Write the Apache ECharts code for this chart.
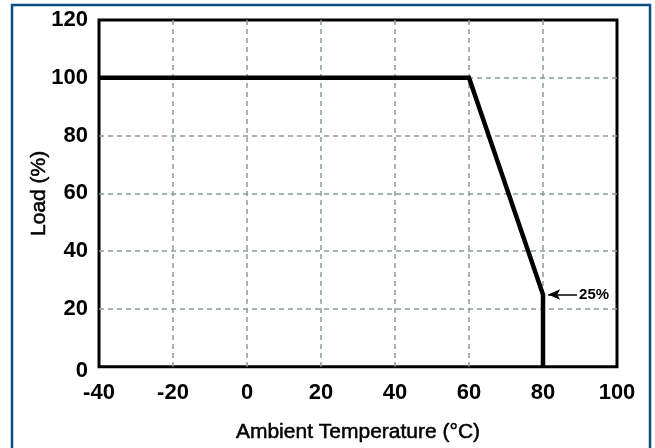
<!DOCTYPE html>
<html>
<head>
<meta charset="utf-8">
<script src="https://cdn.jsdelivr.net/npm/echarts@6/dist/echarts.min.js"></script>
<style>
  html, body { margin: 0; padding: 0; background: #fff; }
  #chart { width: 655px; height: 448px; }
</style>
</head>
<body>
<div id="chart"></div>
<script>
// derating curve points: [temperature, load]
var tempPoints = [-40, 60, 80, 80];
var loadPoints = [100, 100, 25, 0];
var xTicks = [-40, -20, 0, 20, 40, 60, 80, 100];
var yTicks = [0, 20, 40, 60, 80, 100, 120];
var noteLabel = "25%";
var noteFrom = [89.2, 25];
var noteTo = [81.4, 25];

var chart = echarts.init(document.getElementById("chart"));

var font = "'Liberation Sans', Arial, sans-serif";
var gridDash = {
  show: true,
  showMinLine: false,
  showMaxLine: false,
  lineStyle: { color: "#8a9c9c", width: 1.5, type: [5, 4] }
};
var titleStyle = {
  color: "#000", fontSize: 21, fontFamily: font,
  textBorderColor: "#000", textBorderWidth: 0.5
};

var option = {
  animation: false,
  backgroundColor: "#fff",
  grid: {
    left: 99, top: 20, right: 38, bottom: 79,
    show: true, borderColor: "#000", borderWidth: 3, backgroundColor: "transparent"
  },
  xAxis: {
    type: "value",
    min: xTicks[0], max: xTicks[xTicks.length - 1], interval: 20,
    name: "Ambient Temperature (°C)",
    nameLocation: "middle", nameGap: 55, nameMoveOverlap: false,
    nameTextStyle: titleStyle,
    axisLine: { show: false },
    axisTick: { show: false },
    axisLabel: { color: "#000", fontSize: 22, fontWeight: "bold", fontFamily: font, margin: 15 },
    splitLine: gridDash
  },
  yAxis: {
    type: "value",
    min: yTicks[0], max: yTicks[yTicks.length - 1], interval: 20,
    name: "Load (%)",
    nameLocation: "middle", nameGap: 49, nameMoveOverlap: false,
    nameTextStyle: titleStyle,
    axisLine: { show: false },
    axisTick: { show: false },
    axisLabel: {
      color: "#000", fontSize: 22, fontWeight: "bold", fontFamily: font, margin: 11,
      formatter: function (v) { return v === 0 ? "{z|0}" : "" + v; },
      rich: { z: { fontSize: 22, fontWeight: "bold", fontFamily: font, padding: [8, 0, 0, 0] } }
    },
    splitLine: gridDash
  },
  graphic: [{
    type: "rect",
    shape: { x: 12, y: 5, width: 638, height: 470 },
    style: { fill: "none", stroke: "#0d4c86", lineWidth: 2.5 }
  }],
  series: [{
    type: "line",
    data: tempPoints.map(function (t, i) { return [t, loadPoints[i]]; }),
    symbol: "none",
    lineStyle: { color: "#000", width: 4.5, join: "miter" },
    markLine: {
      silent: true,
      symbol: ["none", "arrow"],
      symbolSize: [8, 12],
      lineStyle: { color: "#000", width: 1.5, type: "solid" },
      label: {
        show: true, position: "start", formatter: noteLabel,
        color: "#000", fontSize: 15, fontWeight: "bold", fontFamily: font, distance: 2
      },
      data: [[{ coord: noteFrom }, { coord: noteTo }]]
    }
  }]
};

chart.setOption(option);
</script>
</body>
</html>
